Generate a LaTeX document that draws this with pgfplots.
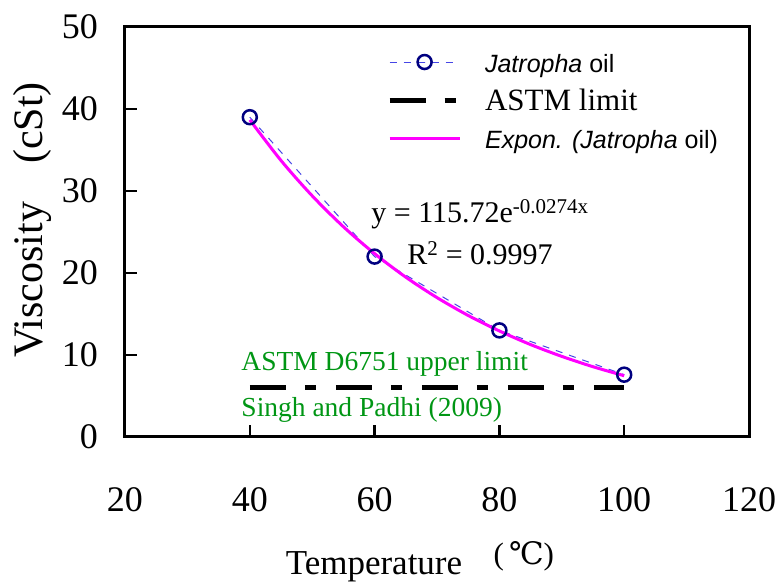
\documentclass[border=0pt]{standalone}
\usepackage{fontspec}
\setmainfont{Liberation Serif}
\newfontfamily\arial{Liberation Sans}
\newfontfamily\dejavu{DejaVu Serif}
\usepackage{pgfplots}
\pgfplotsset{compat=1.18}
\definecolor{navyblue}{RGB}{0,0,128}
\definecolor{dashblue}{RGB}{70,70,230}
\definecolor{astmgreen}{RGB}{0,150,20}
\definecolor{fitpink}{RGB}{255,0,255}

\begin{document}
\begin{tikzpicture}
\begin{axis}[
    scale only axis,
    width=624pt, height=410pt,
    xmin=20, xmax=120, ymin=0, ymax=50,
    xtick={20,40,...,120}, ytick={0,10,...,50},
    tick align=inside, xtick pos=lower, ytick pos=left,
    major tick length=12pt,
    axis line style={line width=3pt},
    tick style={black, line width=2.5pt},
    /pgf/number format/assume math mode=true,
    tick label style={font=\fontsize{36}{36}\selectfont, inner sep=0pt},
    yticklabel shift=27pt, xticklabel shift=50pt,
    clip=false,
    legend cell align=left,
    legend style={at={(axis description cs:0.42,0.939)}, anchor=north west,
        draw=none, fill=none, inner sep=0pt, outer sep=0pt,
        row sep=18pt, column sep=23pt,
        nodes={inner sep=0pt, text height=20pt, text depth=0pt, anchor=west}},
    legend image code/.code={
        \draw[mark repeat=2, mark phase=2, #1]
            plot coordinates {(0pt,0pt) (35pt,0pt) (70pt,0pt)};},
]

% measured viscosity
\addplot[dashblue, line width=1pt, dash pattern=on 7pt off 7pt,
    mark=o, mark size=7pt, mark options={navyblue, solid, line width=2.5pt}]
    coordinates {(40,39.0) (60,22.0) (80,13.0) (100,7.6)};
\addlegendentry{\arial\fontsize{25}{25}\selectfont\itshape Jatropha\upshape{} oil}

% ASTM limit
\addplot[black, line width=5pt, dash pattern=on 36pt off 19pt on 11pt off 20pt]
    coordinates {(40,6) (60,6) (80,6) (100,6)};
\addlegendentry{\fontsize{31}{31}\selectfont ASTM limit}

% exponential trend line
\addplot[fitpink, line width=3pt, smooth]
    coordinates {(40,38.67) (45,33.72) (50,29.41) (55,25.64) (60,22.36)
                 (65,19.49) (70,17.00) (75,14.82) (80,12.93) (85,11.27)
                 (90,9.83) (95,8.57) (100,7.47)};
\addlegendentry{\arial\fontsize{25}{25}\selectfont\itshape Expon. (Jatropha\upshape{} oil)}

\node[anchor=base, font=\fontsize{30}{30}\selectfont] at (axis cs:76.9,26.1)
    {y = 115.72e\textsuperscript{-0.0274x}};
\node[anchor=base, font=\fontsize{30}{30}\selectfont] at (axis cs:76.9,21.0)
    {R\textsuperscript{2} = 0.9997};

\node[anchor=base west, text=astmgreen, font=\fontsize{27.5}{27.5}\selectfont]
    at (axis cs:38.1,8.17) {ASTM D6751 upper limit};
\node[anchor=base west, text=astmgreen, font=\fontsize{27.5}{27.5}\selectfont]
    at (axis cs:38.1,2.44) {Singh and Padhi (2009)};

\node[anchor=base west, font=\fontsize{35}{35}\selectfont] at (axis cs:45.2,-16.8)
    {Temperature};
\node[anchor=base west, font=\fontsize{31}{31}\selectfont] at (axis cs:78.5,-15.6)
    {(\,{\dejavu ℃})};
\node[rotate=90, font=\fontsize{42}{42}\selectfont] at (axis description cs:-0.149,0.529)
    {Viscosity\hspace{0.9em}(cSt)};
\end{axis}
\pgfresetboundingbox
\path (current axis.south west) +(-125pt,-148pt)
      (current axis.north east) +(30pt,27pt);
\end{tikzpicture}
\end{document}
